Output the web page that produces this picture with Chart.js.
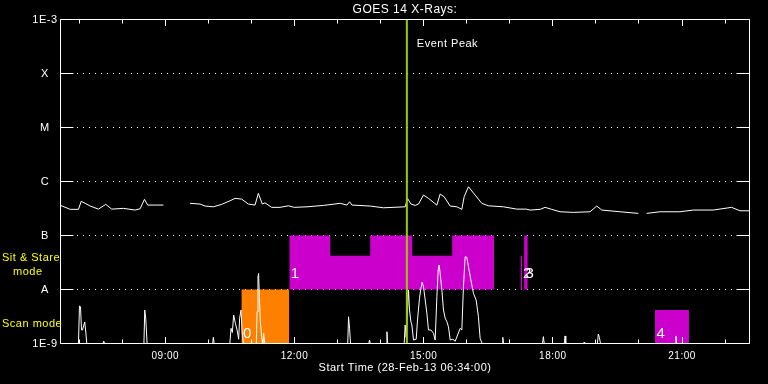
<!DOCTYPE html>
<html>
<head>
<meta charset="utf-8">
<script src="https://cdn.jsdelivr.net/npm/chart.js@4.4.1/dist/chart.umd.min.js"></script>
<style>
  html, body { margin: 0; padding: 0; background: #000; }
  #wrap { width: 768px; height: 384px; }
</style>
</head>
<body>
<div id="wrap"><canvas id="goes"></canvas></div>
<script>
// times are hours of 28-Feb-13 (start 06:34), fluxes in W/m^2
const goesTime = [6.567, 6.792, 6.984, 7.047, 7.140, 7.256, 7.448, 7.618, 7.757, 8.028, 8.300, 8.416, 8.516, 8.592, 8.764, 8.957,
  9.2, 9.576, 9.808, 9.924, 10.116, 10.309, 10.504, 10.620, 10.773, 10.929, 11.084, 11.161, 11.254, 11.316, 11.469, 11.664,
  11.857, 11.996, 12.291, 12.676, 13.063, 13.219, 13.279, 13.335, 13.759, 14.068, 14.571, 14.625, 14.704, 14.804, 14.880,
  14.996, 15.112, 15.307, 15.383, 15.476, 15.616, 15.771, 15.887, 15.940, 16.040, 16.195, 16.351, 16.504, 16.852, 17.163,
  17.379, 17.472, 17.704, 17.820, 17.975, 18.168, 18.477, 18.864, 19.019, 19.135, 19.560, 19.984, 20.08, 20.179, 20.487,
  20.951, 21.260, 21.724, 22.151, 22.344, 22.567];
const goesFlux = [3.61e-7, 3.05e-7, 3.05e-7, 4.29e-7, 3.94e-7, 3.51e-7, 3.08e-7, 3.77e-7, 3.08e-7, 3.18e-7, 2.96e-7, 3.13e-7, 4.67e-7, 3.66e-7, 3.66e-7, 3.66e-7,
  null, 3.94e-7, 3.82e-7, 3.51e-7, 3.40e-7, 3.77e-7, 4.40e-7, 4.87e-7, 4.72e-7, 3.82e-7, 3.66e-7, 6.03e-7, 3.82e-7, 4.03e-7, 3.32e-7, 3.32e-7,
  3.55e-7, 3.32e-7, 3.40e-7, 3.61e-7, 3.94e-7, 3.66e-7, 4.21e-7, 3.66e-7, 3.51e-7, 3.26e-7, 3.40e-7, 4.87e-7, 3.82e-7, 3.61e-7, 3.82e-7,
  5.61e-7, 4.87e-7, 3.66e-7, 5.85e-7, 5.21e-7, 3.51e-7, 3.40e-7, 3.05e-7, 5.21e-7, 7.98e-7, 5.61e-7, 3.94e-7, 3.55e-7, 3.40e-7, 3.08e-7,
  3.08e-7, 2.96e-7, 3.05e-7, 3.32e-7, 3.05e-7, 2.75e-7, 2.68e-7, 2.75e-7, 3.51e-7, 2.96e-7, 2.75e-7, 2.57e-7, null, 2.57e-7, 2.75e-7,
  2.75e-7, 2.96e-7, 2.96e-7, 3.32e-7, 2.87e-7, 2.87e-7];

// scan mode trace
const scanTime = [6.567, 6.984, 7.007, 7.031, 7.055, 7.077, 7.130, 7.158, 7.177, 7.55, 7.571, 7.59, 8.504, 8.523, 8.546, 8.578,
  10.10, 10.116, 10.135, 10.499, 10.527, 10.557, 10.588, 10.627, 10.667, 10.704, 10.727, 10.759, 10.783, 10.813,
  11.114, 11.130, 11.153, 11.167, 11.184, 11.207, 11.246, 11.265, 11.284, 11.311, 13.237, 13.256, 13.279, 13.302,
  13.725, 13.743, 13.76, 14.13, 14.147, 14.165, 14.548, 14.571, 14.594, 14.648, 14.671, 14.704, 14.727, 14.764, 14.827,
  14.857, 14.903, 14.936, 14.966, 14.996, 15.036, 15.075, 15.112, 15.168, 15.228, 15.267, 15.307, 15.337, 15.360, 15.383,
  15.423, 15.460, 15.499, 15.539, 15.576, 15.616, 15.678, 15.732, 15.848, 15.887, 15.924, 15.964, 16.003, 16.040, 16.096,
  16.156, 16.219, 16.272, 16.311, 16.358, 16.82, 16.838, 16.855, 17.76, 17.780, 17.80, 18.265, 18.284, 18.30, 18.71, 18.724,
  18.74, 19.035, 19.056, 19.080, 19.107, 20.84, 20.859, 20.875, 22.567];
const scanFlux = [1e-9, 1e-9, 4.94e-9, 4.8e-9, 1.78e-9, 1.78e-9, 2.5e-9, 1.5e-9, 1e-9, 1e-9, 1.11e-9, 1e-9, 1e-9, 4.17e-9, 2.95e-9, 1e-9,
  1e-9, 1.3e-9, 1e-9, 1e-9, 1.91e-9, 1.6e-9, 3.37e-9, 2.37e-9, 1.78e-9, 1.2e-9, 2.95e-9, 4.17e-9, 1.65e-9, 1e-9,
  1e-9, 3.88e-9, 1.72e-8, 1.99e-8, 7.35e-9, 2.53e-9, 1.16e-9, 1e-9, 1.55e-9, 1e-9, 1e-9, 3.13e-9, 1.91e-9, 1e-9,
  1e-9, 1.16e-9, 1e-9, 1e-9, 1.65e-9, 1e-9, 1e-9, 2.2e-9, 1.3e-9, 9.8e-9, 4.17e-9, 2.53e-9, 2.2e-9, 1.16e-9, 1.2e-9,
  2.72e-9, 6.87e-9, 1.05e-8, 1.36e-8, 1.13e-8, 6.38e-9, 3.62e-9, 1.78e-9, 1.78e-9, 1.55e-9, 1.16e-9, 7.35e-9, 2.29e-8, 2.84e-8, 1.99e-8,
  9.8e-9, 4.17e-9, 2.95e-9, 2.53e-9, 2.05e-9, 1.16e-9, 1.2e-9, 1.1e-9, 1.91e-9, 1.78e-9, 1.13e-8, 4.04e-8, 3.94e-8, 2.64e-8, 1.5e-8,
  8.5e-9, 6.38e-9, 3.13e-9, 1.25e-9, 1e-9, 1e-9, 1.3e-9, 1e-9, 1e-9, 1.34e-9, 1e-9, 1e-9, 1.38e-9, 1e-9, 1e-9, 1.05e-9,
  1e-9, 1e-9, 1.5e-9, 1.3e-9, 1e-9, 1e-9, 1.38e-9, 1e-9, 1e-9];

// observing blocks
const scan0Time = [10.767, 11.880];
const scan0Top = [1e-8, 1e-8];
const stareTime = [11.880, 12.831, 13.759, 14.734, 15.662, 16.636];
const stareTop = [1e-7, 4.2e-8, 1e-7, 4.2e-8, 1e-7, 1e-7];
const stare2Time = [17.270, 17.270];
const stare2Flux = [4.2e-8, 1e-8];
const stare3Time = [17.332, 17.418];
const stare3Top = [1e-7, 1e-7];
const scan4Time = [20.372, 21.161];
const scan4Top = [4.17e-9, 4.17e-9];

const blockNames = ['0', '1', '2', '3', '4'];
const blockStart = [10.767, 11.880, 17.270, 17.332, 20.372];
const blockLabelFlux = [1.24e-9, 1.63e-8, 1.63e-8, 1.63e-8, 1.24e-9];

const eventPeak = 14.61;

const xTickHours = [9, 12, 15, 18, 21];
const yTickValues = [1e-9, 1e-8, 1e-7, 1e-6, 1e-5, 1e-4, 1e-3];
const yTickLabels = ['1E-9', 'A', 'B', 'C', 'M', 'X', '1E-3'];

const FONT = 'Liberation Sans';
const MAGENTA = '#cc00cc';

function pts(xs, ys) {
  return xs.map((x, i) => ({ x: x, y: ys[i] }));
}

// frame, inward ticks and text notes
const overlayPlugin = {
  id: 'overlay',
  beforeLayout(chart) { chart.ctx.letterSpacing = '0.5px'; },
  beforeDraw(chart) { chart.ctx.letterSpacing = '0.5px'; },
  afterDraw(chart) {
    const { ctx, chartArea: a, scales: { x, y } } = chart;
    ctx.save();
    ctx.strokeStyle = '#fff';
    ctx.lineWidth = 1;
    ctx.beginPath();
    ctx.rect(a.left, a.top, a.right - a.left, a.bottom - a.top);
    yTickValues.forEach(v => {
      const py = y.getPixelForValue(v);
      ctx.moveTo(a.left, py); ctx.lineTo(a.left + 13, py);
      ctx.moveTo(a.right - 13, py); ctx.lineTo(a.right, py);
    });
    for (let h = 7; h <= 22; h++) {
      const px = Math.floor(x.getPixelForValue(h)) + 0.5;
      const len = h % 3 === 0 ? 6.5 : 4;
      ctx.moveTo(px, a.top); ctx.lineTo(px, a.top + len);
      ctx.moveTo(px, a.bottom); ctx.lineTo(px, a.bottom - len);
    }
    ctx.stroke();

    ctx.fillStyle = '#fff';
    ctx.font = '15px "' + FONT + '"';
    ctx.textAlign = 'left';
    ctx.textBaseline = 'alphabetic';
    blockNames.forEach((n, i) => {
      ctx.fillText(n, x.getPixelForValue(blockStart[i]) + 1.5, y.getPixelForValue(blockLabelFlux[i]));
    });

    ctx.font = '11px "' + FONT + '"';
    ctx.textBaseline = 'middle';
    ctx.fillText('Event Peak', x.getPixelForValue(eventPeak) + 10, a.top + 24);

    ctx.fillStyle = '#ffff00';
    ctx.fillText('Sit & Stare', 2, y.getPixelForValue(3.8e-8));
    ctx.fillText('mode', 13, y.getPixelForValue(2.1e-8));
    ctx.fillText('Scan mode', 2, y.getPixelForValue(2.3e-9));
    ctx.restore();
  }
};

new Chart(document.getElementById('goes'), {
  type: 'line',
  data: {
    datasets: [
      { data: pts([eventPeak, eventPeak], [1e-9, 1e-3]), borderColor: '#99cc00', borderWidth: 2 },
      { data: pts(goesTime, goesFlux), borderColor: '#fff', borderWidth: 1 },
      { data: pts(scanTime, scanFlux), borderColor: '#fff', borderWidth: 1 },
      { data: pts(stare2Time, stare2Flux), borderColor: MAGENTA, borderWidth: 1 },
      { data: pts(stare3Time, stare3Top), borderColor: 'rgba(0,0,0,0)', backgroundColor: MAGENTA, fill: { value: 1e-8 } },
      { data: pts(stareTime, stareTop), stepped: 'before', borderColor: 'rgba(0,0,0,0)', backgroundColor: MAGENTA, fill: { value: 1e-8 } },
      { data: pts(scan4Time, scan4Top), borderColor: 'rgba(0,0,0,0)', backgroundColor: MAGENTA, fill: { value: 1e-9 } },
      { data: pts(scan0Time, scan0Top), borderColor: 'rgba(0,0,0,0)', backgroundColor: '#ff8000', fill: { value: 1e-9 } }
    ]
  },
  options: {
    responsive: true,
    maintainAspectRatio: false,
    animation: false,
    layout: { padding: { left: 0, right: 18.5, top: 0, bottom: 0 } },
    elements: { point: { radius: 0 }, line: { tension: 0 } },
    plugins: {
      legend: { display: false },
      tooltip: { enabled: false },
      title: {
        display: true,
        fullSize: false,
        text: 'GOES 14 X-Rays:',
        color: '#fff',
        font: { family: FONT, size: 12, weight: 'normal' },
        padding: { top: 2.3, bottom: 2.8 }
      }
    },
    scales: {
      x: {
        type: 'linear',
        min: 6.5667,
        max: 22.5667,
        afterBuildTicks: s => { s.ticks = xTickHours.map(v => ({ value: v })); },
        afterFit: s => { s.height = 40.5; },
        grid: { display: false, drawTicks: false },
        border: { display: false },
        ticks: {
          color: '#fff',
          font: { family: FONT, size: 10 },
          padding: 7,
          maxRotation: 0,
          autoSkip: false,
          callback: v => String(v).padStart(2, '0') + ':00'
        },
        title: {
          display: true,
          text: 'Start Time (28-Feb-13 06:34:00)',
          color: '#fff',
          font: { family: FONT, size: 11 },
          padding: { top: 0, bottom: 9.4 }
        }
      },
      y: {
        type: 'logarithmic',
        min: 1e-9,
        max: 1e-3,
        afterBuildTicks: s => { s.ticks = yTickValues.map(v => ({ value: v })); },
        afterFit: s => { s.width = 60.5; },
        grid: {
          drawTicks: false,
          lineWidth: 1,
          color: c => (c.index === 0 || c.index === yTickValues.length - 1) ? 'rgba(0,0,0,0)' : '#fff'
        },
        border: { display: false, dash: [1, 5], dashOffset: 2 },
        ticks: {
          color: '#fff',
          font: { family: FONT, size: 11 },
          crossAlign: 'center',
          padding: 3,
          autoSkip: false,
          callback: (v, i) => yTickLabels[i]
        }
      }
    }
  },
  plugins: [overlayPlugin]
});
</script>
</body>
</html>
